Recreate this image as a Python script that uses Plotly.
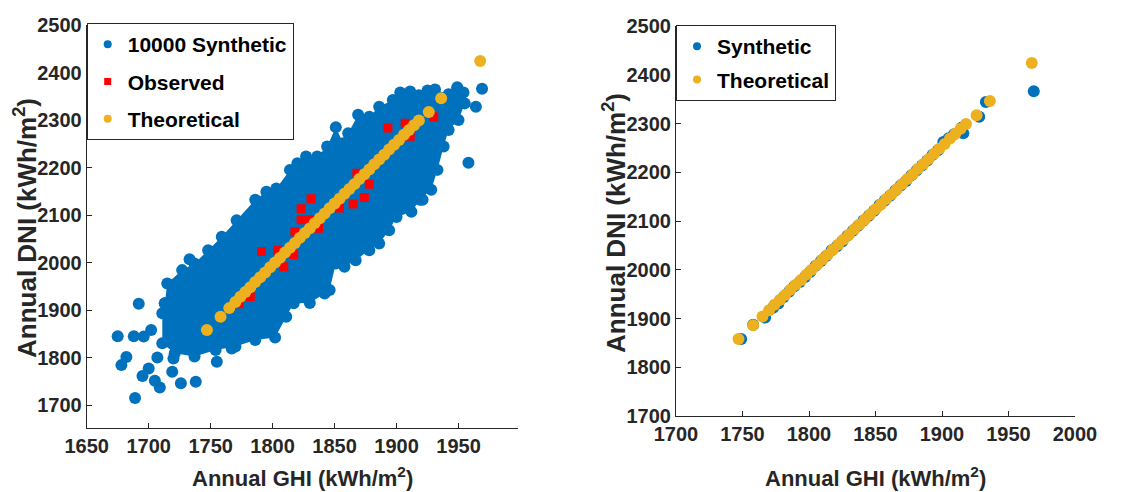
import plotly.graph_objects as go

# ---------------- data ----------------
# Left panel: outline of the dense cloud of 10000 synthetic years (GHI, DNI)
cloud_ghi = [1711, 1713, 1715, 1727, 1737, 1748, 1759, 1771, 1786, 1795, 1803, 1814, 1820, 1827,
             1836, 1844, 1851, 1857, 1861, 1869, 1878, 1886, 1897, 1903, 1911, 1918, 1925, 1931,
             1942, 1949, 1954,
             1955, 1950, 1942, 1938, 1933, 1928, 1919, 1912, 1900, 1894, 1886, 1878, 1867, 1858,
             1851, 1846, 1842, 1830, 1817, 1811, 1802, 1786, 1770, 1754, 1737, 1721, 1711]
cloud_dni = [1893, 1914, 1956, 1984, 1998, 2026, 2054, 2089, 2132, 2149, 2156, 2195, 2209, 2223,
             2223, 2244, 2285, 2251, 2272, 2311, 2307, 2328, 2342, 2358, 2360, 2352, 2362, 2364,
             2354, 2366, 2358,
             2335, 2300, 2279, 2244, 2195, 2153, 2132, 2107, 2096, 2068, 2040, 2026, 2005, 1991,
             1998, 1942, 1935, 1915, 1914, 1886, 1842, 1837, 1823, 1816, 1802, 1809, 1830]

# Left panel: individual synthetic points visible outside the dense cloud
synth_pts_ghi = [1675, 1688, 1692, 1682, 1678, 1689, 1695, 1700, 1705, 1709, 1707, 1719, 1726,
                 1738, 1720, 1713, 1733, 1755, 1767, 1696, 1702, 1958, 1964, 1969, 1949, 1921]
synth_pts_dni = [1845, 1845, 1913, 1801, 1784, 1715, 1761, 1777, 1751, 1737, 1800, 1770, 1746,
                 1749, 1798, 1914, 2007, 1791, 1819, 1844, 1858, 2210, 2328, 2366, 2369, 2132]

# Left panel: observed years
obs_ghi = [1773, 1782, 1791, 1804, 1809, 1817, 1818, 1823, 1823, 1830, 1831, 1837, 1854, 1865,
           1868, 1874, 1878, 1893, 1907, 1911, 1930]
obs_dni = [1913, 1928, 2023, 2026, 1991, 2017, 2065, 2090, 2113, 2090, 2134, 2072, 2115, 2123,
           2188, 2137, 2165, 2283, 2293, 2266, 2307]

# Theoretical (both panels)
theo_ghi = [1747, 1758, 1765, 1770, 1774, 1778, 1782, 1786, 1790, 1794, 1798, 1802, 1806, 1810,
            1814, 1818, 1822, 1826, 1830, 1834, 1838, 1842, 1846, 1850, 1854, 1858, 1862, 1866,
            1870, 1874, 1878, 1882, 1886, 1890, 1894, 1898, 1902, 1906, 1910, 1914, 1918, 1926,
            1936, 1967.5]
theo_dni = [1858, 1886, 1904, 1917, 1928, 1938, 1948, 1959, 1969, 1979, 1990, 2000, 2010, 2021,
            2031, 2041, 2052, 2062, 2072, 2083, 2093, 2103, 2114, 2124, 2134, 2145, 2155, 2165,
            2176, 2186, 2196, 2207, 2217, 2227, 2238, 2248, 2258, 2269, 2279, 2289, 2299, 2317,
            2346, 2424]

# Right panel: synthetic quantiles
q_synth_ghi = [1749, 1758, 1767, 1773, 1777, 1781, 1785, 1789, 1793, 1797, 1801, 1805, 1809, 1813,
               1817, 1821, 1825, 1829, 1833, 1837, 1841, 1845, 1849, 1853, 1857, 1861, 1865, 1869,
               1873, 1877, 1881, 1885, 1889, 1893, 1897, 1901, 1905, 1909, 1915, 1916, 1928, 1933,
               1969]
q_synth_dni = [1858, 1887, 1902, 1922, 1931, 1944, 1955, 1966, 1975, 1985, 1996, 2008, 2018, 2028,
               2040, 2048, 2058, 2070, 2080, 2090, 2101, 2111, 2121, 2133, 2142, 2152, 2163, 2173,
               2182, 2194, 2204, 2214, 2224, 2236, 2245, 2262, 2270, 2278, 2292, 2280, 2314, 2344,
               2366]

left_x_ticks = [1650, 1700, 1750, 1800, 1850, 1900, 1950]
right_x_ticks = [1700, 1750, 1800, 1850, 1900, 1950, 2000]
y_ticks = [1700, 1800, 1900, 2000, 2100, 2200, 2300, 2400, 2500]

# ---------------- styling ----------------
BLUE = "#0072BD"
ORANGE = "#EDB120"
RED = "#FF0000"
FONT = "Liberation Sans, Arial, sans-serif"
AXC = "#262626"
W, H = 1139, 492

fig = go.Figure()

# Left panel data
fig.add_trace(go.Scatter(x=cloud_ghi, y=cloud_dni, mode="markers", fill="toself",
                         fillcolor=BLUE, marker=dict(color=BLUE, size=12),
                         line=dict(width=0, color=BLUE), showlegend=False,
                         hoverinfo="skip", xaxis="x", yaxis="y"))
fig.add_trace(go.Scatter(x=synth_pts_ghi, y=synth_pts_dni, mode="markers", showlegend=False,
                         marker=dict(color=BLUE, size=12), xaxis="x", yaxis="y"))
fig.add_trace(go.Scatter(x=obs_ghi, y=obs_dni, mode="markers", showlegend=False,
                         marker=dict(color=RED, size=9, symbol="square"), xaxis="x", yaxis="y"))
fig.add_trace(go.Scatter(x=theo_ghi, y=theo_dni, mode="markers", showlegend=False,
                         marker=dict(color=ORANGE, size=12), xaxis="x", yaxis="y"))

# Right panel data
fig.add_trace(go.Scatter(x=q_synth_ghi, y=q_synth_dni, mode="markers", showlegend=False,
                         marker=dict(color=BLUE, size=12), xaxis="x2", yaxis="y2"))
fig.add_trace(go.Scatter(x=theo_ghi, y=theo_dni, mode="markers", showlegend=False,
                         marker=dict(color=ORANGE, size=12), xaxis="x2", yaxis="y2"))

# Legend entries (no data, only legend symbols)
def legend_entry(name, color, symbol, size, legend, group, xa, ya):
    fig.add_trace(go.Scatter(x=[None], y=[None], mode="markers", name=name,
                             marker=dict(color=color, symbol=symbol, size=size),
                             legend=legend, legendgroup=group, xaxis=xa, yaxis=ya))

legend_entry("10000 Synthetic", BLUE, "circle", 8, "legend", "a", "x", "y")
legend_entry("Observed", RED, "square", 7, "legend", "b", "x", "y")
legend_entry("Theoretical", ORANGE, "circle", 8, "legend", "c", "x", "y")
legend_entry("Synthetic", BLUE, "circle", 8, "legend2", "d", "x2", "y2")
legend_entry("Theoretical", ORANGE, "circle", 8, "legend2", "e", "x2", "y2")

tickfont = dict(family=FONT, size=20, color=AXC, weight="bold")
axis_common = dict(showline=True, linecolor=AXC, linewidth=1, ticks="inside", ticklen=5,
                   tickcolor=AXC, showgrid=False, zeroline=False, tickfont=tickfont,
                   mirror=False, fixedrange=True, automargin=False)

lx0, lx1 = 86.7 / W, 518 / W
ly0, ly1 = 1 - 428.3 / H, 1 - 25 / H
rx0, rx1 = 676 / W, 1075 / W
ry0, ry1 = 1 - 416 / H, 1 - 26 / H

fig.update_layout(
    width=W, height=H, margin=dict(l=0, r=0, t=0, b=0, autoexpand=False),
    paper_bgcolor="white", plot_bgcolor="white",
    xaxis=dict(domain=[lx0, lx1], range=[1650, 1998], tickvals=left_x_ticks, anchor="y",
               **axis_common),
    yaxis=dict(domain=[ly0, ly1], range=[1651, 2500], tickvals=y_ticks, anchor="x",
               **axis_common),
    xaxis2=dict(domain=[rx0, rx1], range=[1700, 2000], tickvals=right_x_ticks, anchor="y2",
                **axis_common),
    yaxis2=dict(domain=[ry0, ry1], range=[1700, 2500], tickvals=y_ticks, anchor="x2",
                **axis_common),
    legend=dict(x=lx0, y=1 - 23 / H, xanchor="left", yanchor="top", bgcolor="white",
                bordercolor=AXC, borderwidth=1, traceorder="grouped", tracegroupgap=7,
                font=dict(family=FONT, size=21, color="black", weight="bold")),
    legend2=dict(x=rx0, y=1 - 25 / H, xanchor="left", yanchor="top", bgcolor="white",
                 bordercolor=AXC, borderwidth=1, traceorder="grouped", tracegroupgap=3,
                 font=dict(family=FONT, size=21, color="black", weight="bold")),
    showlegend=True,
)

xtitle_font = dict(family=FONT, size=22, color=AXC, weight="bold")
ytitle_font = dict(family=FONT, size=26, color=AXC, weight="bold")
xtitle = "Annual GHI (kWh/m<sup>2</sup>)"
ytitle = "Annual DNI (kWh/m<sup>2</sup>)"
fig.add_annotation(text=xtitle, x=(lx0 + lx1) / 2, y=1 - 477 / H, xref="paper", yref="paper",
                   showarrow=False, font=xtitle_font, xanchor="center", yanchor="middle")
fig.add_annotation(text=xtitle, x=(rx0 + rx1) / 2, y=1 - 477 / H, xref="paper", yref="paper",
                   showarrow=False, font=xtitle_font, xanchor="center", yanchor="middle")
fig.add_annotation(text=ytitle, x=26 / W, y=1 - 228 / H, xref="paper", yref="paper",
                   showarrow=False, font=ytitle_font, textangle=-90, xanchor="center",
                   yanchor="middle")
fig.add_annotation(text=ytitle, x=614 / W, y=1 - 223 / H, xref="paper", yref="paper",
                   showarrow=False, font=ytitle_font, textangle=-90, xanchor="center",
                   yanchor="middle")

fig.write_html("out.html")
